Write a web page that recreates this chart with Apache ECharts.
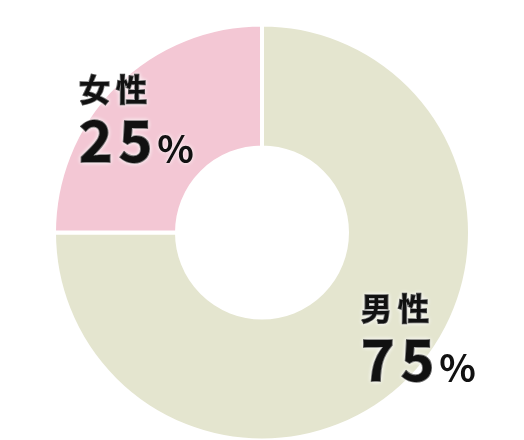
<!DOCTYPE html>
<html><head><meta charset="utf-8">
<script src="https://cdn.jsdelivr.net/npm/echarts@6/dist/echarts.min.js"></script>
<style>html,body{margin:0;padding:0;background:#fff}#c{width:524px;height:440px}</style>
</head><body><div id="c"></div>
<script>
const categories = ['男性', '女性'];
const values = [75, 25];
const sliceColors = ['#e4e5cf', '#f3c7d4'];
const labelPos = [{left: 361, top: 285}, {left: 79, top: 66}];

const chart = echarts.init(document.getElementById('c'), null, {renderer: 'canvas'});
const FF = '"Noto Sans CJK JP", "Noto Sans", sans-serif';
const base = {fontFamily: FF, fontWeight: 'bold', color: '#111', textBorderColor: '#111', textBorderWidth: 1.6, textShadowColor: '#fff', textShadowBlur: 4};
const rich = {
  n: Object.assign({}, base, {fontSize: 31, lineHeight: 46}),
  n2: Object.assign({}, base, {fontSize: 31, lineHeight: 46, padding: [0, 0, 0, 6]}),
  v: Object.assign({}, base, {fontSize: 57, lineHeight: 56}),
  v2: Object.assign({}, base, {fontSize: 57, lineHeight: 56, padding: [0, 0, 0, 6]}),
  p: Object.assign({}, base, {fontSize: 38, lineHeight: 56, verticalAlign: 'bottom', padding: [0, 0, 0, 5], textBorderWidth: 0})
};
function spaced(str, style) {
  return str.split('').map((ch, k) => '{' + style + (k ? '2' : '') + '|' + ch + '}').join('');
}
const titles = categories.map((name, i) => ({
  text: spaced(name, 'n') + '\n' + spaced(String(values[i]), 'v') + '{p|%}',
  left: labelPos[i].left,
  top: labelPos[i].top,
  padding: 0,
  textStyle: {rich: rich}
}));

chart.setOption({
  animation: false,
  title: titles,
  series: [{
    type: 'pie',
    center: [262, 232.5],
    radius: [85, 208],
    startAngle: 90,
    clockwise: true,
    silent: true,
    label: {show: false},
    labelLine: {show: false},
    itemStyle: {borderColor: '#fff', borderWidth: 4},
    data: categories.map((name, i) => ({name: name, value: values[i], itemStyle: {color: sliceColors[i]}}))
  }]
});
</script></body></html>
